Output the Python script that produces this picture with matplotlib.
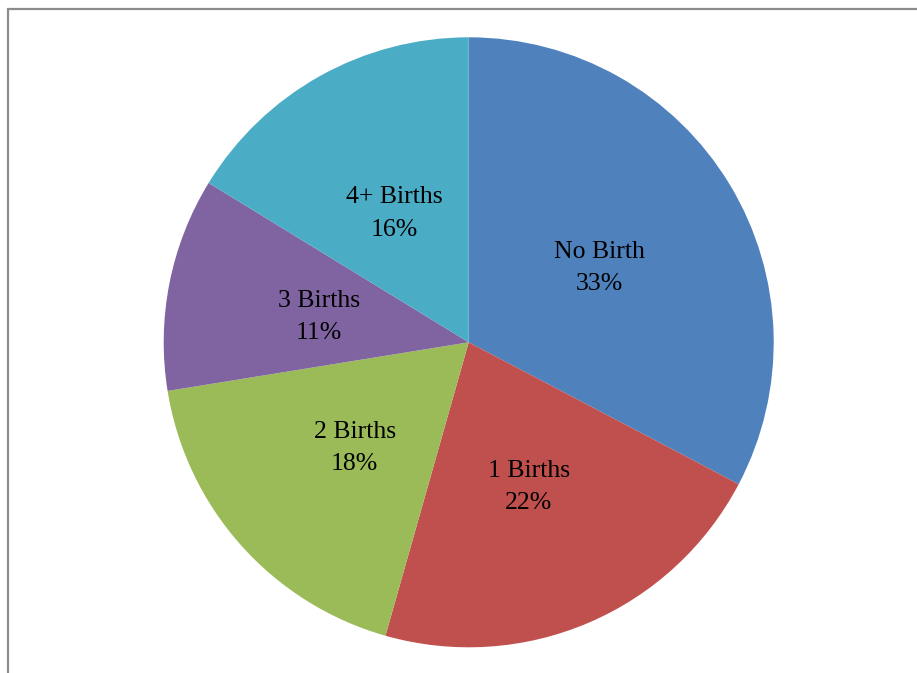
import matplotlib.pyplot as plt
from matplotlib.patches import Rectangle
import numpy as np

labels = ['No Birth', '1 Births', '2 Births', '3 Births', '4+ Births']
shares = [32.7, 21.7, 18.05, 11.3, 16.25]
colors = ['#4F81BD', '#C0504D', '#9BBB59', '#8064A2', '#4BACC6']

W, H = 917, 673
fig = plt.figure(figsize=(W / 100, H / 100), dpi=100)

# frame of the chart area (only left and top edges visible)
fig.patches.append(Rectangle((8 / W, -0.1), 1.2, (H - 9) / H + 0.1, transform=fig.transFigure,
                             fill=False, edgecolor='#8c8c8c', linewidth=1.6))

cx, cy, r = 468.7, H - 342.3, 305
ax = fig.add_axes([(cx - r) / W, (cy - r) / H, 2 * r / W, 2 * r / H])
wedges, _ = ax.pie(shares, colors=colors, startangle=90, counterclock=False,
                   radius=1, wedgeprops=dict(linewidth=0))
ax.set_xlim(-1, 1)
ax.set_ylim(-1, 1)
ax.set_aspect('equal')
ax.axis('off')

# labels inside slices
for w, lab, s in zip(wedges, labels, shares):
    ang = np.deg2rad((w.theta1 + w.theta2) / 2)
    ax.text(0.5 * np.cos(ang), 0.5 * np.sin(ang) - 0.014, f'{lab}\n{s:.0f}%', ha='center', va='center',
            fontsize=18.5, family='Liberation Serif', linespacing=1.6)

fig.savefig('out.png', dpi=100)
